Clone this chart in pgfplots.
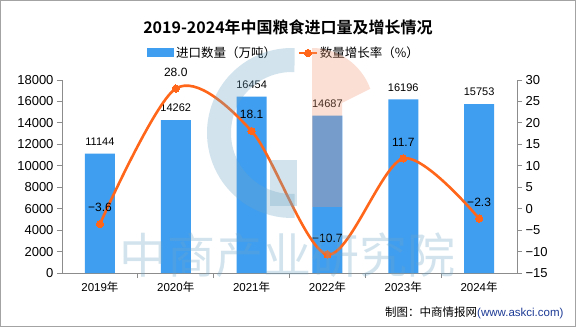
\documentclass[border=0pt]{standalone}
\usepackage{pgfplots}
\pgfplotsset{compat=1.18}
\usepackage{fontspec}
\setmainfont{Liberation Sans}
\newfontfamily\cjk{Noto Sans CJK SC}[BoldFont={Noto Sans CJK SC Bold}]
\definecolor{barblue}{RGB}{64,158,240}
\definecolor{lineorange}{RGB}{255,102,26}
\definecolor{axisgray}{RGB}{140,140,140}
\definecolor{wmblue}{RGB}{108,165,198}
\definecolor{wmorange}{RGB}{242,152,115}
\definecolor{askblue}{RGB}{30,60,150}
\begin{document}
\begin{tikzpicture}[x=1pt,y=1pt]
\draw[fill=white, draw=axisgray!80, line width=1.2pt] (0.6pt,0.6pt) rectangle (575.4pt,326.4pt);
\node[font=\fontsize{16}{16}\cjk\bfseries] at (288pt,299.5pt) {2019-2024年中国粮食进口量及增长情况};
\begin{axis}[
  at={(62pt,54pt)}, anchor=south west, scale only axis,
  width=455pt, height=193pt,
  xmin=-0.5, xmax=5.5, ymin=0, ymax=18000,
  axis x line*=bottom, axis y line*=left,
  axis line style={-, draw=axisgray, line width=0.9pt},
  tick align=outside,
  major tick length=5pt, minor tick length=5pt,
  tick style={draw=axisgray, line width=0.9pt},
  xtick={0,1,2,3,4,5},
  xticklabels={2019{\cjk 年},2020{\cjk 年},2021{\cjk 年},2022{\cjk 年},2023{\cjk 年},2024{\cjk 年}},
  major x tick style={draw=none},
  minor xtick={0.5,1.5,2.5,3.5,4.5},
  x tick label style={font=\fontsize{11.5}{12}\selectfont},
  ytick={0,2000,...,18000},
  scaled y ticks=false,
  y tick label style={font=\fontsize{13}{13}\selectfont},
  /pgf/number format/1000 sep={},
  /pgf/number format/assume math mode=true,
  clip=false,
  legend style={at={(0.488,1.14)}, anchor=center, draw=none, fill=none,
     legend columns=2, font=\fontsize{12.5}{14}\cjk,
     /tikz/every even column/.append style={column sep=20pt}},
]
\addplot[ybar, bar width=30pt, fill=barblue, draw=none,
  nodes near coords,
  nodes near coords style={font=\fontsize{11}{11}\selectfont, text=black, inner sep=0pt, anchor=south, yshift=8pt},
  legend image code/.code={\fill[barblue] (0pt,-4.5pt) rectangle (27pt,4.5pt);}]
  coordinates {(0,11144) (1,14262) (2,16454) (3,14687) (4,16196) (5,15753)};
\addlegendentry{进口数量（万吨）}
\addlegendimage{color=lineorange, line width=2.6pt, mark=*, mark size=3.6pt, mark options={fill=lineorange, draw=lineorange, line width=0pt}}
\addlegendentry{数量增长率（\%）}
\end{axis}
\begin{axis}[
  at={(62pt,54pt)}, anchor=south west, scale only axis,
  width=455pt, height=193pt,
  xmin=-0.5, xmax=5.5, ymin=-15, ymax=30,
  axis x line=none, axis y line*=right,
  axis line style={-, draw=axisgray, line width=0.9pt},
  tick align=outside,
  major tick length=5pt,
  tick style={draw=axisgray, line width=0.9pt},
  ytick={-15,-10,-5,0,5,10,15,20,25,30},
  yticklabels={−15,−10,−5,0,5,10,15,20,25,30},
  y tick label style={font=\fontsize{13}{13}\selectfont},
  clip=false,
]
\addplot[smooth, color=lineorange, line width=2.6pt, mark=*, mark size=3.6pt,
  mark options={fill=lineorange, draw=lineorange, line width=0pt},
  nodes near coords, point meta=explicit symbolic,
  nodes near coords style={font=\fontsize{12}{12}\selectfont, text=black, inner sep=0pt, anchor=south, yshift=12pt}]
  coordinates {(0,-3.6) [−3.6] (1,28.0) [28.0] (2,18.1) [18.1] (3,-10.7) [−10.7] (4,11.7) [11.7] (5,-2.3) [−2.3]};
\end{axis}
% watermark
\begin{scope}[opacity=0.3]
\draw[wmblue, line width=24pt] (292pt,194pt) ++(88:73pt) arc[start angle=88, end angle=272, radius=73pt];
\fill[wmblue] (270pt,121pt) rectangle (297pt,167pt);
\fill[wmorange] (312pt,279pt) arc[start angle=90, end angle=20, radius=62pt] -- (342pt,224pt) -- (342pt,120pt) -- (312pt,120pt) -- cycle;
\node[font=\fontsize{48}{48}\cjk, text=wmblue] at (287pt,72pt) {中商产业研究院};
\end{scope}
\node[anchor=east, font=\fontsize{11.5}{12}\selectfont] at (567pt,14pt) {{\cjk 制图：中商情报网}{\color{askblue}(www.askci.com)}};
\end{tikzpicture}
\end{document}
